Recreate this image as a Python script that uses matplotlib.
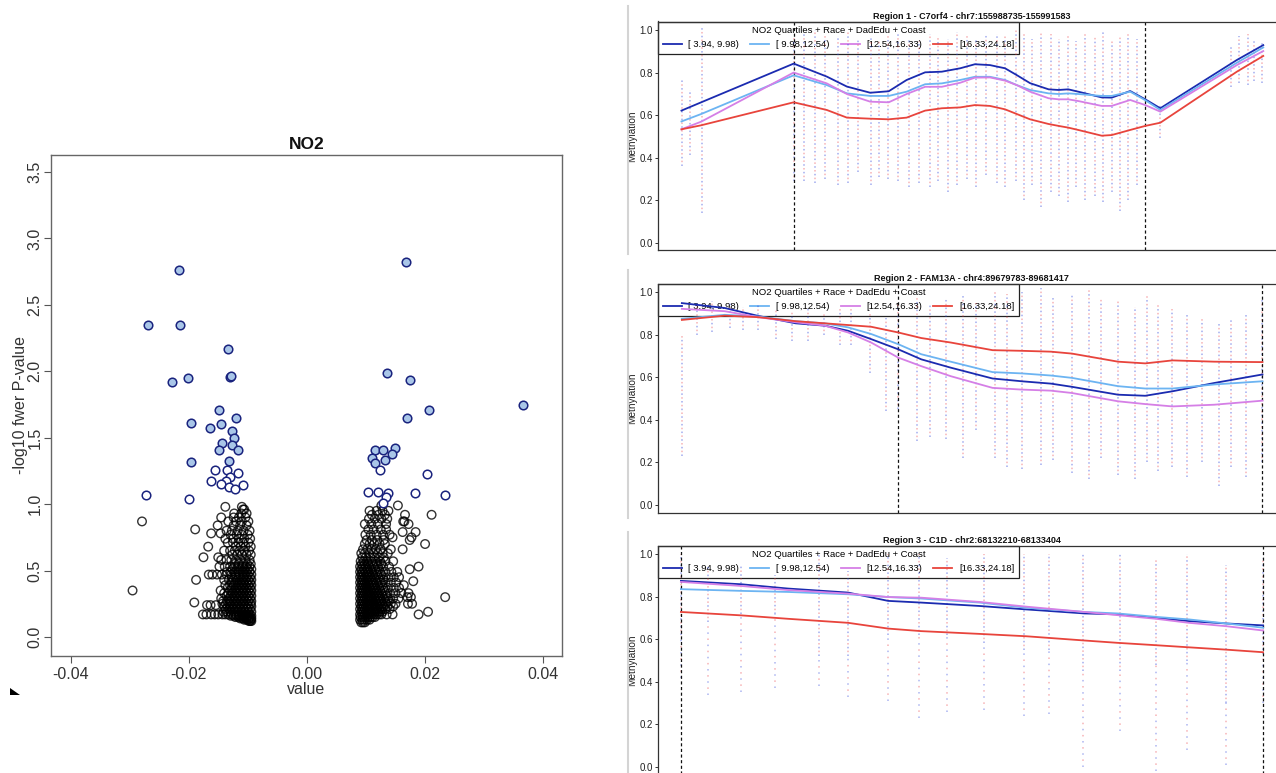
import numpy as np
import matplotlib
matplotlib.use("Agg")
import matplotlib.pyplot as plt
from matplotlib.lines import Line2D
from matplotlib.patches import Polygon

plt.rcParams['font.family'] = ['Liberation Sans', 'DejaVu Sans']

# ---------------- volcano data (x in units of 1e-3) ----------------
sig_x = [-21.66, -26.92, -21.53, -13.30, -22.83, -20.05, -13.00, -12.80, -14.79, -19.55,
         -11.94, -16.46, -14.60, -12.75, -12.31, -14.42, -12.62, -14.91, -11.63, -13.18,
         -19.68, -15.53, -13.55, -11.63, -12.93, -16.15, -13.61, -14.54, -10.83, -13.18,
         -12.19, -27.29, -19.99,
         16.71, 13.55, 17.45, 36.57, 20.73, 16.96, 11.51, 12.93, 14.85, 14.42, 11.01,
         13.30, 11.45, 12.44, 20.30, 10.40, 12.00, 13.80, 18.32, 23.33, 13.43, 12.93]
sig_y = [2.766, 2.345, 2.345, 2.167, 1.916, 1.949, 1.960, 1.965, 1.705, 1.611,
         1.647, 1.575, 1.600, 1.548, 1.501, 1.460, 1.446, 1.410, 1.410, 1.323,
         1.314, 1.259, 1.259, 1.237, 1.204, 1.171, 1.171, 1.149, 1.147, 1.127,
         1.116, 1.070, 1.037,
         2.821, 1.985, 1.933, 1.749, 1.705, 1.647, 1.410, 1.405, 1.419, 1.377, 1.347,
         1.336, 1.311, 1.259, 1.226, 1.094, 1.094, 1.086, 1.081, 1.072, 1.053, 1.012]

left_rows = [
    (0.12, [-9.4, -9.6, -9.8]),
    (0.13, [-9.5, -9.9, -10.2, -10.6]),
    (0.14, [-9.4, -9.8, -10.3, -10.8, -11.3]),
    (0.15, [-9.6, -10.1, -10.6, -11.1, -11.6, -12.1]),
    (0.16, [-9.4, -9.9, -10.4, -10.9, -11.4, -11.9, -12.4, -12.9]),
    (0.17, [-9.7, -10.3, -10.9, -11.5, -12.1, -12.7, -13.3, -13.8, -14.3, -15.0, -15.6, -16.2, -17.0, -17.6]),
    (0.19, [-9.4, -9.9, -10.5, -11.1, -11.7, -12.3, -12.9, -13.5, -14.1]),
    (0.21, [-9.6, -10.1, -10.7, -11.3, -11.9, -12.5, -13.1, -13.7]),
    (0.23, [-9.4, -9.9, -10.4, -11.0, -11.6, -12.2, -12.8, -13.4, -14.0]),
    (0.24, [-15.4, -16.3, -16.9]),
    (0.25, [-9.5, -10.1, -10.7, -11.3, -11.9, -12.5, -13.1, -13.7, -14.3]),
    (0.26, [-19.05]),
    (0.27, [-9.4, -9.9, -10.5, -11.1, -11.7, -12.3, -12.9, -13.5, -14.2]),
    (0.29, [-9.6, -10.2, -10.8, -11.4, -12.0, -12.6, -13.2, -14.5]),
    (0.31, [-9.4, -9.9, -10.5, -11.1, -11.7, -12.3, -12.9, -13.6]),
    (0.33, [-9.6, -10.2, -10.8, -11.4, -12.0, -12.6, -13.3, -14.0]),
    (0.35, [-9.4, -9.9, -10.5, -11.1, -11.7, -12.3, -13.0, -14.6, -29.5]),
    (0.37, [-9.6, -10.2, -10.8, -11.4, -12.0, -12.7, -13.4]),
    (0.39, [-9.4, -9.9, -10.5, -11.1, -11.7, -12.4, -13.0, -13.8]),
    (0.41, [-9.6, -10.2, -10.8, -11.4, -12.1, -12.8]),
    (0.43, [-9.4, -9.9, -10.5, -11.1, -11.8, -12.4, -13.2, -14.0, -18.75]),
    (0.45, [-9.6, -10.2, -10.8, -11.5, -12.1, -12.7]),
    (0.47, [-9.4, -10.0, -10.6, -11.3, -12.0, -12.8, -13.6, -14.4, -15.2, -16.0, -16.6]),
    (0.49, [-9.7, -10.3, -10.9, -11.6, -12.2, -12.9, -13.5]),
    (0.51, [-9.4, -10.0, -10.6, -11.3, -11.9, -12.6]),
    (0.53, [-9.7, -10.3, -10.9, -11.6, -12.3, -13.0, -13.9, -14.8]),
    (0.55, [-9.5, -10.1, -10.7, -11.5, -12.2]),
    (0.58, [-9.7, -10.4, -11.2, -12.0, -12.8, -13.6, -14.5]),
    (0.60, [-15.0, -17.5]),
    (0.62, [-9.5, -10.2, -11.0, -11.8, -12.6]),
    (0.65, [-9.8, -10.6, -11.4, -12.2, -13.0, -14.0]),
    (0.68, [-9.5, -10.4, -11.2, -12.0, -16.7]),
    (0.71, [-9.9, -10.8, -11.6, -12.5, -13.4]),
    (0.74, [-9.6, -10.6, -11.5, -12.5, -13.8]),
    (0.77, [-10.0, -11.0, -11.9, -12.9]),
    (0.78, [-14.6, -16.2]),
    (0.80, [-9.7, -10.7, -11.7, -12.7, -13.6]),
    (0.81, [-18.9]),
    (0.84, [-10.2, -11.3, -12.4, -15.1]),
    (0.87, [-9.9, -11.0, -12.0, -13.3, -27.9]),
    (0.90, [-10.4, -11.5, -12.4, -14.5]),
    (0.93, [-10.2, -11.1, -12.3]),
    (0.96, [-10.6, -10.8]),
    (0.98, [-11.0, -13.8]),
]

right_rows = [
    (0.11, [9.2, 9.5, 9.8]),
    (0.13, [9.0, 9.4, 9.8, 10.2, 10.6]),
    (0.15, [9.1, 9.5, 9.9, 10.3, 10.7, 11.1, 11.5]),
    (0.17, [9.0, 9.4, 9.8, 10.2, 10.6, 11.0, 11.4, 11.8, 12.2, 12.6, 13.5, 14.5, 18.9]),
    (0.19, [9.2, 9.6, 10.0, 10.4, 10.8, 11.2, 11.6, 12.0, 12.4, 12.8, 20.5]),
    (0.21, [9.0, 9.4, 9.8, 10.2, 10.6, 11.0, 11.4, 11.8, 12.2, 12.7, 13.2, 14.0]),
    (0.23, [9.2, 9.6, 10.0, 10.4, 10.8, 11.2, 11.6, 12.0, 12.5, 13.0, 13.6, 14.6]),
    (0.25, [9.0, 9.4, 9.8, 10.2, 10.6, 11.0, 11.4, 11.8, 12.3, 12.8, 13.4, 14.2, 15.0, 17.1, 17.8]),
    (0.27, [9.2, 9.6, 10.0, 10.4, 10.8, 11.2, 11.6, 12.1, 12.6, 13.2, 13.9]),
    (0.29, [9.0, 9.4, 9.8, 10.2, 10.6, 11.0, 11.4, 11.9, 12.4, 13.0, 13.7, 14.6, 15.5]),
    (0.30, [17.0, 17.6, 23.4]),
    (0.31, [9.2, 9.6, 10.0, 10.4, 10.8, 11.2, 11.7, 12.2, 12.8, 13.5]),
    (0.33, [9.0, 9.4, 9.8, 10.2, 10.6, 11.0, 11.5, 12.0, 12.6, 13.3, 14.1, 15.0, 16.0, 17.2]),
    (0.35, [9.2, 9.6, 10.0, 10.4, 10.8, 11.3, 11.8, 12.4, 13.1]),
    (0.37, [9.0, 9.4, 9.8, 10.2, 10.6, 11.1, 11.6, 12.2, 12.9, 13.7, 14.7, 15.6]),
    (0.39, [9.2, 9.6, 10.0, 10.4, 10.9, 11.4, 12.0, 12.7, 16.4]),
    (0.41, [9.0, 9.4, 9.8, 10.2, 10.7, 11.2, 11.8, 12.5, 13.3, 14.2, 15.1]),
    (0.42, [18.0]),
    (0.43, [9.2, 9.6, 10.0, 10.5, 11.0, 11.6, 12.3, 13.0]),
    (0.45, [9.0, 9.4, 9.8, 10.3, 10.8, 11.4, 12.1, 12.9, 13.8, 14.7, 15.6]),
    (0.47, [9.2, 9.6, 10.1, 10.6, 11.2, 11.9, 12.6]),
    (0.49, [9.0, 9.4, 9.9, 10.4, 11.0, 11.7, 12.4, 13.3, 14.3, 15.3]),
    (0.51, [9.2, 9.7, 10.2, 10.8, 11.5, 12.2, 17.4]),
    (0.53, [9.0, 9.5, 10.0, 10.6, 11.3, 12.0, 12.9, 13.9, 18.9]),
    (0.55, [9.3, 9.8, 10.4, 11.1, 11.8, 12.6]),
    (0.57, [9.1, 9.6, 10.2, 10.9, 11.6, 12.4, 13.3, 14.6]),
    (0.60, [9.4, 10.0, 10.7, 11.4, 12.2, 13.0]),
    (0.63, [9.2, 9.8, 10.5, 11.2, 12.0, 12.8, 13.7]),
    (0.66, [9.5, 10.2, 10.9, 11.7, 12.5, 14.2, 16.2]),
    (0.70, [9.8, 10.6, 11.4, 12.3, 13.2, 20.0]),
    (0.73, [10.1, 11.0, 11.9, 13.0, 17.4]),
    (0.75, [14.5, 17.7]),
    (0.77, [9.9, 10.8, 11.8, 12.9, 14.0]),
    (0.79, [16.2, 18.4]),
    (0.81, [10.4, 11.3, 12.5, 13.4]),
    (0.85, [9.8, 10.9, 12.0, 13.4, 17.2]),
    (0.87, [16.3, 16.5]),
    (0.89, [10.5, 11.5, 12.6, 13.6]),
    (0.92, [11.0, 12.1, 13.2, 16.6, 21.1]),
    (0.95, [10.6, 11.8, 12.8, 13.8]),
    (0.99, [12.6, 15.4]),
]

vol_xticks = [-0.04, -0.02, 0.0, 0.02, 0.04]
vol_xlabels = ['-0.04', '-0.02', '0.00', '0.02', '0.04']
vol_yticks = [0.0, 0.5, 1.0, 1.5, 2.0, 2.5, 3.0, 3.5]

# ---------------- methylation region data ----------------
group_labels = ['[ 3.94, 9.98)', '[ 9.98,12.54)', '[12.54,16.33)', '[16.33,24.18]']
group_colors = ['#1b2bb0', '#6cb4f2', '#d57fe6', '#e8443c']

titles = ['Region 1 - C7orf4 - chr7:155988735-155991583',
          'Region 2 - FAM13A - chr4:89679783-89681417',
          'Region 3 - C1D - chr2:68132210-68133404']
region_bounds = [(155988735, 155991583), (89679783, 89681417), (68132210, 68133404)]
region_xlim = [(155987636, 155992715), (89678705, 89681518), (68132163, 68133449)]

p1_pos = [155987826, 155987986, 155988735, 155989003, 155989166, 155989355, 155989505,
          155989650, 155989800, 155989935, 155990084, 155990203, 155990325, 155990447,
          155990542, 155990650, 155990800, 155990881, 155990959, 155991040, 155991230,
          155991311, 155991461, 155991583, 155991705, 155992325, 155992539]
p1_q1 = [0.621, 0.660, 0.842, 0.781, 0.734, 0.705, 0.712, 0.765, 0.801, 0.804, 0.820, 0.839, 0.835, 0.820,
         0.788, 0.750, 0.721, 0.718, 0.721, 0.710, 0.683, 0.682, 0.713, 0.674, 0.632, 0.859, 0.929]
p1_q2 = [0.570, 0.605, 0.787, 0.741, 0.702, 0.690, 0.690, 0.710, 0.745, 0.749, 0.765, 0.780, 0.780, 0.765,
         0.741, 0.718, 0.702, 0.699, 0.702, 0.699, 0.690, 0.690, 0.710, 0.670, 0.624, 0.846, 0.918]
p1_q3 = [0.533, 0.569, 0.800, 0.749, 0.699, 0.663, 0.660, 0.699, 0.733, 0.733, 0.752, 0.776, 0.777, 0.762,
         0.741, 0.710, 0.679, 0.674, 0.674, 0.666, 0.643, 0.643, 0.671, 0.647, 0.616, 0.835, 0.901]
p1_q4 = [0.533, 0.552, 0.660, 0.624, 0.588, 0.583, 0.580, 0.588, 0.621, 0.632, 0.636, 0.647, 0.643, 0.627,
         0.605, 0.580, 0.558, 0.549, 0.541, 0.530, 0.503, 0.506, 0.530, 0.549, 0.564, 0.804, 0.878]

p2_pos = [89678812, 89679004, 89679154, 89679323, 89679454, 89679558, 89679661, 89679783, 89679886,
          89680018, 89680206, 89680337, 89680468, 89680562, 89680769, 89680891, 89681013, 89681201, 89681417]
p2_q1 = [0.948, 0.925, 0.888, 0.853, 0.842, 0.818, 0.779, 0.731, 0.684, 0.645, 0.594, 0.581, 0.570, 0.555,
         0.518, 0.513, 0.534, 0.573, 0.613]
p2_q2 = [0.874, 0.893, 0.885, 0.863, 0.853, 0.834, 0.803, 0.755, 0.708, 0.673, 0.624, 0.618, 0.608, 0.597,
         0.558, 0.547, 0.547, 0.566, 0.581]
p2_q3 = [0.921, 0.910, 0.882, 0.858, 0.842, 0.810, 0.763, 0.692, 0.652, 0.605, 0.550, 0.542, 0.537, 0.526,
         0.487, 0.474, 0.463, 0.471, 0.490]
p2_q4 = [0.869, 0.889, 0.882, 0.863, 0.853, 0.845, 0.837, 0.810, 0.784, 0.763, 0.727, 0.724, 0.720, 0.711,
         0.673, 0.665, 0.679, 0.673, 0.671]

p3_pos = [68132210, 68132334, 68132429, 68132553, 68132635, 68132703, 68132823, 68132918, 68133038,
          68133106, 68133184, 68133252, 68133329, 68133404]
p3_q1 = [0.874, 0.858, 0.838, 0.819, 0.780, 0.772, 0.756, 0.740, 0.721, 0.717, 0.700, 0.685, 0.674, 0.665]
p3_q2 = [0.835, 0.827, 0.822, 0.811, 0.798, 0.791, 0.772, 0.748, 0.728, 0.721, 0.705, 0.693, 0.674, 0.654]
p3_q3 = [0.869, 0.850, 0.831, 0.814, 0.798, 0.795, 0.775, 0.753, 0.728, 0.713, 0.696, 0.677, 0.661, 0.641]
p3_q4 = [0.728, 0.712, 0.696, 0.677, 0.650, 0.638, 0.625, 0.614, 0.594, 0.583, 0.572, 0.562, 0.551, 0.539]

# per-CpG spread of individual samples (position, low, high)
p1_cpg = [155987830, 155987898, 155987989, 155988735, 155988820, 155988905, 155988989, 155989091,
          155989176, 155989260, 155989362, 155989430, 155989498, 155989583, 155989667, 155989752,
          155989837, 155989905, 155989989, 155990057, 155990142, 155990210, 155990294, 155990379,
          155990447, 155990532, 155990600, 155990667, 155990735, 155990820, 155990888, 155990955,
          155991023, 155991091, 155991176, 155991244, 155991311, 155991379, 155991447, 155991515,
          155991701, 155992278, 155992345, 155992413, 155992464, 155992532]
p1_lo = [0.36, 0.41, 0.14, 0.29, 0.29, 0.28, 0.30, 0.27, 0.28, 0.33, 0.27, 0.31, 0.30, 0.29, 0.26, 0.28,
         0.26, 0.29, 0.24, 0.27, 0.30, 0.26, 0.32, 0.28, 0.26, 0.29, 0.20, 0.27, 0.17, 0.24, 0.22, 0.19,
         0.26, 0.20, 0.22, 0.19, 0.24, 0.15, 0.20, 0.27, 0.49, 0.73, 0.75, 0.74, 0.76, 0.75]
p1_hi = [0.77, 0.72, 1.02, 0.97, 0.98, 1.00, 0.98, 0.97, 0.99, 0.96, 0.97, 0.95, 0.97, 0.98, 0.96, 0.95,
         0.98, 0.97, 0.96, 0.99, 0.97, 0.96, 0.98, 0.98, 0.97, 1.00, 0.99, 0.96, 0.99, 0.98, 0.96, 0.98,
         0.95, 0.99, 0.97, 0.99, 0.95, 0.97, 0.98, 0.96, 0.65, 0.93, 0.97, 0.98, 0.95, 0.95]

p2_cpg = [89678812, 89678882, 89678947, 89679026, 89679088, 89679154, 89679233, 89679308, 89679379,
          89679449, 89679520, 89679573, 89679657, 89679727, 89679783, 89679868, 89679924, 89679999,
          89680074, 89680130, 89680215, 89680271, 89680337, 89680422, 89680478, 89680562, 89680638,
          89680694, 89680769, 89680844, 89680900, 89680947, 89681013, 89681079, 89681145, 89681220,
          89681276, 89681342, 89681417]
p2_lo = [0.23, 0.80, 0.81, 0.83, 0.82, 0.82, 0.78, 0.77, 0.77, 0.80, 0.75, 0.75, 0.62, 0.44, 0.45, 0.30,
         0.32, 0.31, 0.22, 0.35, 0.22, 0.18, 0.17, 0.19, 0.21, 0.15, 0.12, 0.22, 0.14, 0.12, 0.20, 0.16,
         0.18, 0.13, 0.20, 0.09, 0.18, 0.13, 0.20]
p2_hi = [0.80, 0.95, 0.96, 0.95, 0.93, 0.94, 0.92, 0.91, 0.92, 0.90, 0.93, 0.93, 0.90, 0.88, 0.95, 0.98,
         0.94, 0.97, 0.98, 0.95, 1.00, 0.99, 1.00, 1.02, 0.98, 0.99, 1.02, 0.97, 0.96, 0.93, 0.98, 0.95,
         0.92, 0.90, 0.88, 0.85, 0.87, 0.90, 0.97]

p3_cpg = [68132210, 68132266, 68132334, 68132403, 68132493, 68132553, 68132635, 68132699, 68132755,
          68132832, 68132913, 68132965, 68133034, 68133111, 68133184, 68133248, 68133329, 68133404]
p3_lo = [0.62, 0.68, 0.72, 0.72, 0.52, 0.52, 0.62, 0.62, 0.62, 0.58, 0.55, 0.55, 0.45, 0.45, 0.48, 0.50, 0.30, 0.55]
p3_min = [0.42, 0.34, 0.35, 0.37, 0.38, 0.33, 0.31, 0.23, 0.26, 0.27, 0.24, 0.25, 0.00, 0.17, -0.02, 0.08, 0.01, 0.30]
p3_hi = [1.00, 0.95, 0.95, 0.90, 1.00, 0.92, 1.00, 1.00, 0.98, 1.00, 1.00, 1.00, 1.00, 1.00, 0.97, 1.00, 0.95, 0.98]

meth_yticks = [0.0, 0.2, 0.4, 0.6, 0.8, 1.0]

# ---------------- figure ----------------
W, H = 1276, 773
fig = plt.figure(figsize=(W / 100, H / 100), dpi=100)


def ax_px(l, t, r, b):
    return fig.add_axes([l / W, 1 - b / H, (r - l) / W, (b - t) / H])


# ---- volcano ----
ax = ax_px(51, 154.5, 561.6, 656)
bx, by = [], []
for rows in (left_rows, right_rows):
    for yv, xs in rows:
        for xv in xs:
            bx.append(xv / 1000.0)
            by.append(yv)
ax.scatter(bx, by, s=38, facecolors='none', edgecolors=(0, 0, 0, 0.8), linewidths=1.0, zorder=2)
sx = np.array(sig_x) / 1000.0
sy = np.array(sig_y)
filled = sy > -np.log10(0.05)
ax.scatter(sx[filled], sy[filled], s=38, facecolors='#a9c6e8', edgecolors='#1a237e', linewidths=1.1, zorder=3)
ax.scatter(sx[~filled], sy[~filled], s=38, facecolors='white', edgecolors='#1a237e', linewidths=1.1, zorder=3)
ax.set_xlim(-0.0433, 0.0431)
ax.set_ylim(-0.143, 3.632)
ax.set_xticks(vol_xticks)
ax.set_xticklabels(vol_xlabels)
ax.set_yticks(vol_yticks)
ax.set_yticklabels(['%.1f' % v for v in vol_yticks], rotation=90, va='center')
ax.tick_params(direction='out', length=4.7, width=0.8, color='#555555', labelsize=11.5,
               labelcolor='#333333', pad=3)
ax.tick_params(axis='y', pad=1.5)
for sp in ax.spines.values():
    sp.set_color('#666666')
    sp.set_linewidth(1.0)
ax.set_title('NO2', fontsize=12.5, fontweight='bold', pad=4, color='#111111')
ax.set_xlabel('value', fontsize=11.5, labelpad=0, color='#333333')
ax.set_ylabel('-log10 fwer P-value', fontsize=11.5, labelpad=-0.5, color='#333333')

# ---- methylation panels ----
panels = [
    (21.5, 250.1, p1_pos, [p1_q1, p1_q2, p1_q3, p1_q4], p1_cpg, p1_lo, p1_hi, None),
    (283.5, 512.5, p2_pos, [p2_q1, p2_q2, p2_q3, p2_q4], p2_cpg, p2_lo, p2_hi, None),
    (545.5, 774.5, p3_pos, [p3_q1, p3_q2, p3_q3, p3_q4], p3_cpg, p3_lo, p3_hi, p3_min),
]
gray_spans = [(6, 254), (270, 518), (532, 773)]

for i, (top, bot, pos, groups, cpg, lo, hi, mn) in enumerate(panels):
    a = ax_px(658, top, 1285, bot)
    a.set_xlim(*region_xlim[i])
    a.set_ylim(-0.035, 1.04)
    # sample spread
    a.vlines(cpg, lo, hi, colors='#2f46dc', linestyles=(0, (1, 4)), linewidth=1.1, alpha=0.45, zorder=2)
    a.vlines(cpg, lo, hi, colors='#ea3f45', linestyles=(2.5, (1, 4)), linewidth=1.1, alpha=0.4, zorder=2)
    if mn is not None:
        a.vlines(cpg, mn, lo, colors='#2f46dc', linestyles=(0, (1, 7)), linewidth=1.1, alpha=0.4, zorder=2)
        a.vlines(cpg, mn, lo, colors='#ea3f45', linestyles=(4, (1, 7)), linewidth=1.1, alpha=0.4, zorder=2)
    for b in region_bounds[i]:
        a.axvline(b, color='#111111', linestyle=(0, (2.5, 2)), linewidth=0.9, zorder=2.5)
    handles = []
    for g, vals in enumerate(groups):
        h, = a.plot(pos, vals, color=group_colors[g], linewidth=1.3, zorder=4, label=group_labels[g])
        handles.append(h)
    leg = a.legend(handles=handles, ncol=4, loc='upper left', bbox_to_anchor=(0, 1), borderaxespad=0,
                   title='NO2 Quartiles + Race + DadEdu + Coast', fontsize=6.8, title_fontsize=6.8,
                   frameon=True, fancybox=False, edgecolor='#222222', facecolor='white', framealpha=1,
                   handlelength=2.0, handletextpad=0.7, columnspacing=1.2, borderpad=0.5,
                   labelspacing=0.55)
    leg.get_frame().set_linewidth(0.9)
    leg.set_zorder(1.5)
    a.set_xticks([])
    a.set_yticks(meth_yticks)
    a.set_yticklabels(['%.1f' % v for v in meth_yticks])
    a.tick_params(axis='y', direction='out', length=2.5, width=0.7, labelsize=7, pad=1, color='#333333',
                  labelcolor='#222222')
    for sp in a.spines.values():
        sp.set_color('#333333')
        sp.set_linewidth(0.9)
    a.set_ylabel('Methylation', fontsize=7.2, labelpad=2, color='#222222')
    a.set_title(titles[i], fontsize=6.5, fontweight='bold', pad=1.5, color='#111111')
    g0, g1 = gray_spans[i]
    fig.add_artist(Line2D([628 / W, 628 / W], [1 - g0 / H, 1 - g1 / H], color='#d4d4d4', linewidth=1.5))

# small corner mark at lower left
fig.add_artist(Polygon([[10 / W, 1 - 688 / H], [10 / W, 1 - 695 / H], [20 / W, 1 - 695 / H]],
                       closed=True, transform=fig.transFigure, facecolor='black', edgecolor='none'))

fig.savefig('out.png', dpi=100)
